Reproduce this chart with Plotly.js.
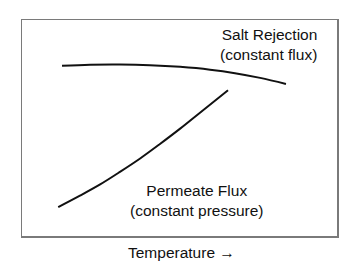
<!DOCTYPE html>
<html>
<head>
<meta charset="utf-8">
<script src="https://cdn.plot.ly/plotly-3.0.1.min.js"></script>
<style>html,body{margin:0;padding:0;background:#fff;}#chart{width:364px;height:275px;}</style>
</head>
<body>
<div id="chart"></div>
<script>
// Temperature (relative units, 0-100) and relative responses (0-100)
const saltTemp = [12.7, 21.6, 31.1, 40.6, 50.2, 59.7, 67.6, 75.6, 83.8];
const saltRejection = [78.8, 79.3, 79.4, 79.1, 78.3, 77.0, 75.4, 73.2, 70.4];
const fluxTemp = [11.5, 18.4, 24.8, 31.1, 37.5, 43.8, 50.2, 56.5, 65.4];
const permeateFlux = [13.4, 18.7, 23.9, 29.7, 35.9, 42.6, 49.7, 57.1, 67.5];

const saltLabel = ['Salt Rejection', '(constant flux)'];
const fluxLabel = ['Permeate Flux', '(constant pressure)'];
const xLabel = 'Temperature →';

const font = 'Liberation Sans, Arial, Helvetica, sans-serif';
const lineStyle = {color: '#111', width: 2, shape: 'spline', smoothing: 1};

const traces = [
  {x: saltTemp, y: saltRejection, mode: 'lines', line: lineStyle, name: 'Salt Rejection', hoverinfo: 'skip'},
  {x: fluxTemp, y: permeateFlux, mode: 'lines', line: lineStyle, name: 'Permeate Flux', hoverinfo: 'skip'}
];

function ann(text, x, y, xanchor, align) {
  return {text: text, xref: 'paper', yref: 'paper', x: x, y: y, xanchor: xanchor, yanchor: 'middle',
          align: align, showarrow: false, borderpad: 0, borderwidth: 0,
          font: {family: font, size: 15.5, color: '#111'}};
}

const axisStyle = {range: [0, 100], showgrid: false, zeroline: false, showticklabels: false, ticks: '',
                   showline: true, mirror: true, linecolor: '#7a7a7a', linewidth: 1.5, fixedrange: true};

const layout = {
  width: 364, height: 275,
  margin: {l: 22, r: 27, t: 20, b: 39},
  paper_bgcolor: '#fff', plot_bgcolor: '#fff',
  showlegend: false,
  xaxis: Object.assign({}, axisStyle),
  yaxis: Object.assign({}, axisStyle),
  font: {family: font},
  annotations: [
    ann(saltLabel.join('<br>'), 0.935, 0.886, 'right', 'right'),
    ann(fluxLabel.join('<br>'), 0.557, 0.164, 'center', 'center'),
    ann(xLabel, 0.505, -0.075, 'center', 'center')
  ]
};

Plotly.newPlot('chart', traces, layout, {displayModeBar: false, staticPlot: true});
</script>
</body>
</html>
